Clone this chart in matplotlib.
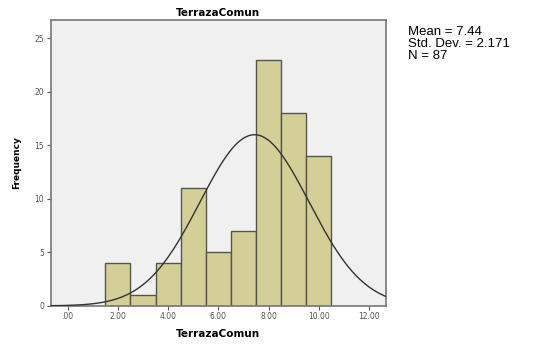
import numpy as np
import matplotlib
matplotlib.use('Agg')
import matplotlib.pyplot as plt

# Histogram of TerrazaComun (SPSS style output)
bin_edges = [1.5, 2.5, 3.5, 4.5, 5.5, 6.5, 7.5, 8.5, 9.5, 10.5]
counts = [4, 1, 4, 11, 5, 7, 23, 18, 14]
mean = 7.44
std = 2.171
n = 87
xticks = [0, 2, 4, 6, 8, 10, 12]
xtick_labels = ['.00', '2.00', '4.00', '6.00', '8.00', '10.00', '12.00']
yticks = [0, 5, 10, 15, 20, 25]

fig = plt.figure(figsize=(5.49, 3.46), dpi=100)
ax = fig.add_axes([0.092, 0.116, 0.611, 0.826])
ax.set_facecolor('#f0f0f0')

widths = np.diff(bin_edges)
ax.bar(bin_edges[:-1], counts, width=widths, align='edge',
       color='#d3cf97', edgecolor='#555550', linewidth=1.0, zorder=2)

# Normal curve scaled to counts
x = np.linspace(-0.7, 12.7, 400)
bw = widths[0]
y = n * bw / (std * np.sqrt(2 * np.pi)) * np.exp(-0.5 * ((x - mean) / std) ** 2)
ax.plot(x, y, color='#333333', linewidth=1.0, zorder=3)

ax.set_xlim(-0.68, 12.67)
ax.set_ylim(0, 26.7)
ax.set_xticks(xticks)
ax.set_xticklabels(xtick_labels)
ax.set_yticks(yticks)
ax.tick_params(axis='both', labelsize=5.5, labelcolor='#555555', color='#555555',
               length=3, width=0.8, pad=1.5)
for side in ax.spines.values():
    side.set_color('#777777')
    side.set_linewidth(1.2)

ax.set_title('TerrazaComun', fontsize=7.5, fontweight='bold', pad=3)
ax.set_xlabel('TerrazaComun', fontsize=7.5, fontweight='bold', labelpad=6)
ax.set_ylabel('Frequency', fontsize=6.5, fontweight='bold', labelpad=10)

fig.text(0.743, 0.925, 'Mean = %.2f\nStd. Dev. = %.3f\nN = %d' % (mean, std, n),
         fontsize=9.5, va='top', ha='left', linespacing=1.0, family='Liberation Sans')

fig.savefig('out.png', dpi=100)
